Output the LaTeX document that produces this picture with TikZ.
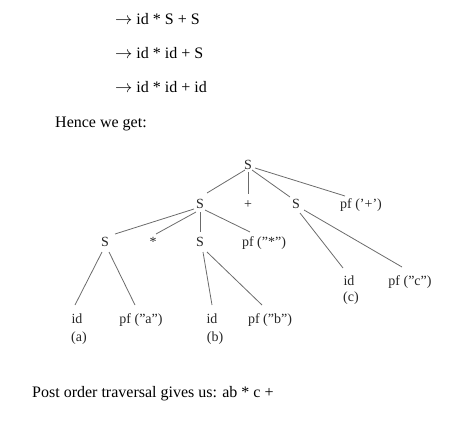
\documentclass[tikz,border=0pt]{standalone}
\usepackage{fontspec}
\setmainfont{Liberation Serif}
\begin{document}
\begin{tikzpicture}[x=1pt,y=-1pt,
  body/.style={anchor=base west,inner sep=0pt,font=\fontsize{16}{19}\selectfont},
  tn/.style={anchor=base,inner sep=0pt,text=black!85,font=\fontsize{14}{16}\selectfont},
  edge/.style={draw=black!58,line width=0.8pt}]
\useasboundingbox (0,0) rectangle (452,430);
% body text
\node[body] (l1) at (115,25) {$\rightarrow$ id * S + S};
\node[body] (l2) at (115,59) {$\rightarrow$ id * id + S};
\node[body] (l3) at (115,93) {$\rightarrow$ id * id + id};
\node[body] (hence) at (55,128) {Hence we get:};
\node[body] (post) at (32,397) {Post order traversal gives us: ab * c +};
% tree nodes
\node[tn] (r) at (248,170) {S};
\node[tn] (s1) at (200,209) {S};
\node[tn] (plus) at (248,209) {+};
\node[tn] (s2) at (296,209) {S};
\node[tn] (pfp) at (361,209) {pf (\char"27+\char"27)};
\node[tn] (s3) at (105,247) {S};
\node[tn] (star) at (153,247) {*};
\node[tn] (s4) at (200,247) {S};
\node[tn] (pfs) at (264,247) {pf (\char"22*\char"22)};
\node[tn] (ida) at (77,323) {id};
\node[tn] (pfa) at (141,323) {pf (\char"22a\char"22)};
\node[tn] (idb) at (212,323) {id};
\node[tn] (pfb) at (270,323) {pf (\char"22b\char"22)};
\node[tn] (idc) at (349,285) {id};
\node[tn] (pfc) at (410,285) {pf (\char"22c\char"22)};
\node[tn] (la) at (79,341) {(a)};
\node[tn] (lb) at (215,341) {(b)};
\node[tn] (lc) at (351,301) {(c)};
% edges
\draw[edge] ([shift={(-3,0)}]r.base) -- ([shift={(7,-16)}]s1.base);
\draw[edge] ([shift={(0,2)}]r.base) -- ([shift={(0,-15)}]plus.base);
\draw[edge] ([shift={(4,0)}]r.base) -- ([shift={(-6,-12)}]s2.base);
\draw[edge] ([shift={(7,-2)}]r.base) -- ([shift={(-16,-13)}]pfp.base);
\draw[edge] ([shift={(-6,0)}]s1.base) -- ([shift={(10,-13)}]s3.base);
\draw[edge] ([shift={(-4,3)}]s1.base) -- ([shift={(3,-13)}]star.base);
\draw[edge] ([shift={(0,3)}]s1.base) -- ([shift={(0,-15)}]s4.base);
\draw[edge] ([shift={(5,1)}]s1.base) -- ([shift={(-14,-15)}]pfs.base);
\draw[edge] ([shift={(-3,5)}]s3.base) -- ([shift={(-2,-18)}]ida.base);
\draw[edge] ([shift={(4,5)}]s3.base) -- ([shift={(-6,-18)}]pfa.base);
\draw[edge] ([shift={(3,5)}]s4.base) -- ([shift={(0,-18)}]idb.base);
\draw[edge] ([shift={(7,5)}]s4.base) -- ([shift={(-8,-18)}]pfb.base);
\draw[edge] ([shift={(4,4)}]s2.base) -- ([shift={(-6,-17)}]idc.base);
\draw[edge] ([shift={(8,1)}]s2.base) -- ([shift={(-8,-18)}]pfc.base);
\end{tikzpicture}
\end{document}
